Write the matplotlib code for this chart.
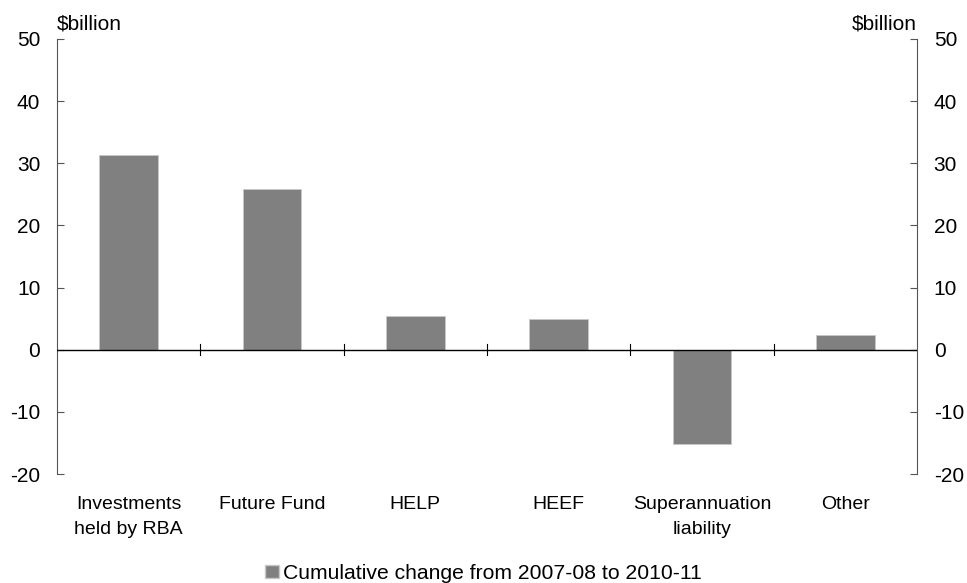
import numpy as np
import matplotlib.pyplot as plt
from matplotlib.patches import Patch

categories = ['Investments\nheld by RBA', 'Future Fund', 'HELP', 'HEEF',
              'Superannuation\nliability', 'Other']
values = [31.4, 25.9, 5.5, 5.0, -15.1, 2.4]
series_name = 'Cumulative change from 2007-08 to 2010-11'
yticks = [-20, -10, 0, 10, 20, 30, 40, 50]

plt.rcParams['font.family'] = ['Liberation Sans', 'DejaVu Sans']

fig = plt.figure(figsize=(9.67, 5.83), dpi=100)
ax = fig.add_axes([57 / 967, 1 - 474 / 583, 860 / 967, 435 / 583])

x = np.arange(len(categories))
ax.bar(x, values, width=0.41, color='#808080', edgecolor='#c8c8c8', linewidth=0.6, zorder=2)

ax.set_xlim(-0.5, len(categories) - 0.5)
ax.set_ylim(-20, 50)
ax.set_yticks(yticks)
ax.set_yticklabels([str(t) for t in yticks])
ax.tick_params(axis='y', direction='in', length=5, width=0.8, color='#555555',
               labelsize=15, pad=12, right=True, labelright=True)

for s in ['top', 'bottom']:
    ax.spines[s].set_visible(False)
for s in ['left', 'right']:
    ax.spines[s].set_color('#555555')
    ax.spines[s].set_linewidth(0.8)

ax.axhline(0, color='black', linewidth=1.0, zorder=3)
ax.set_xticks([])
# category boundary ticks on the zero line
for b in np.arange(0.5, len(categories) - 0.5, 1.0):
    ax.plot([b, b], [-0.9, 0.9], color='black', linewidth=0.8, zorder=3)

# category labels below the axes
for xi, lab in zip(x, categories):
    ax.annotate(lab, (xi, 0), xycoords=('data', 'axes fraction'),
                xytext=(0, -16), textcoords='offset points',
                ha='center', va='top', fontsize=14, linespacing=1.6)

ax.text(0, 1.012, '$billion', transform=ax.transAxes, ha='left', va='bottom', fontsize=15)
ax.text(1, 1.012, '$billion', transform=ax.transAxes, ha='right', va='bottom', fontsize=15)

fig.legend(handles=[Patch(facecolor='#808080', edgecolor='#c8c8c8', label=series_name)],
           loc='lower center', bbox_to_anchor=(0.5, -0.018), frameon=False, fontsize=15.2,
           borderpad=0, handlelength=0.63, handleheight=0.63, handletextpad=0.2)

fig.savefig('out.png', dpi=100)
